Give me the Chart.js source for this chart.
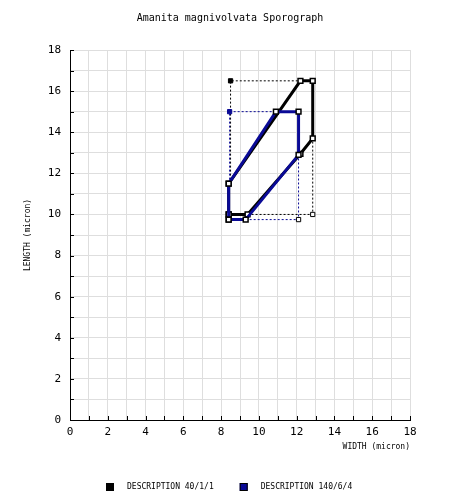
<!DOCTYPE html>
<html>
<head>
<meta charset="utf-8">
<script src="https://cdn.jsdelivr.net/npm/chart.js@4/dist/chart.umd.min.js"></script>
<style>
  html, body { margin: 0; padding: 0; background: #fff; }
  #wrap { width: 460px; height: 502px; }
</style>
</head>
<body>
<div id="wrap"><canvas id="sporeChart" width="460" height="502"></canvas></div>
<script>
// ========================
// Data read off the sporograph
const chartTitle = 'Amanita magnivolvata Sporograph';
const seriesNames = ['DESCRIPTION 40/1/1', 'DESCRIPTION 140/6/4'];

// outline of each description (width, length in micron)
const blackWidth  = [8.4, 9.4, 12.2, 12.85, 12.85, 12.2, 8.4, 8.4];
const blackLength = [10.0, 10.0, 12.95, 13.7, 16.5, 16.5, 11.5, 10.0];
const blueWidth   = [8.4, 9.3, 12.1, 12.1, 10.9, 8.4, 8.4];
const blueLength  = [9.75, 9.75, 12.9, 15.0, 15.0, 11.5, 9.75];

// dotted min / max guides (null = break in line)
const blackGuideWidth  = [8.5, 8.5, 12.2, null, 9.4, 12.85, 12.85];
const blackGuideLength = [11.5, 16.5, 16.5, null, 10.0, 10.0, 13.7];
const blueGuideWidth   = [8.45, 8.45, 10.9, null, 9.3, 12.1, 12.1];
const blueGuideLength  = [11.5, 15.0, 15.0, null, 9.75, 9.75, 12.9];

const axisMin = 0;
const axisMax = 18;

const BLACK = '#000000';
const BLUE = '#0a0a96';
const MONO = '"DejaVu Sans Mono", monospace';

function toPoints(xs, ys) {
    return xs.map((x, i) => ({ x: x, y: ys[i] }));
}

function outlineDataset(label, xs, ys, color, order) {
    return {
        label: label,
        data: toPoints(xs, ys),
        showLine: true,
        borderColor: color,
        borderWidth: 3,
        pointStyle: 'rect',
        pointRadius: 3.4,
        pointBorderColor: '#000',
        pointBorderWidth: 1.5,
        pointBackgroundColor: '#fff',
        order: order
    };
}

function guideDataset(label, xs, ys, color, order) {
    return {
        label: label,
        data: toPoints(xs, ys),
        showLine: true,
        spanGaps: false,
        borderColor: color,
        borderWidth: 1,
        borderDash: [2, 2],
        pointStyle: 'rect',
        pointRadius: [0, 3, 0, 0, 0, 3, 0],
        pointBorderColor: [color, color, color, color, color, '#000', color],
        pointBorderWidth: 1,
        pointBackgroundColor: [color, color, color, color, color, '#fff', color],
        order: order
    };
}

// ticks inside the axes + bottom legend
const extras = {
    id: 'extras',
    afterDatasetsDraw(chart) {
        const { ctx, chartArea: a, scales: { x, y } } = chart;
        ctx.save();
        ctx.strokeStyle = '#000';
        ctx.lineWidth = 1;
        for (let v = axisMin; v <= axisMax; v++) {
            const px = Math.round(x.getPixelForValue(v)) + 0.5;
            ctx.beginPath(); ctx.moveTo(px, a.bottom); ctx.lineTo(px, a.bottom - 4); ctx.stroke();
            const py = Math.round(y.getPixelForValue(v)) + 0.5;
            ctx.beginPath(); ctx.moveTo(a.left, py); ctx.lineTo(a.left + 4, py); ctx.stroke();
        }

        // legend
        ctx.font = '8px ' + MONO;
        ctx.textBaseline = 'middle';
        const colors = [BLACK, BLUE];
        const box = 8, gap = 13, itemGap = 26;
        const widths = seriesNames.map(n => ctx.measureText(n).width);
        const total = widths.reduce((s, w) => s + box + gap + w, 0) + itemGap;
        let lx = Math.round(chart.width / 2 - total / 2) - 1;
        const ly = 487;
        seriesNames.forEach((name, i) => {
            ctx.fillStyle = colors[i];
            ctx.fillRect(lx, ly - 4, box, box);
            ctx.strokeStyle = '#000';
            ctx.strokeRect(lx + 0.5, ly - 3.5, box - 1, box - 1);
            ctx.fillStyle = '#000';
            ctx.fillText(name, lx + box + gap, ly);
            lx += box + gap + widths[i] + itemGap;
        });
        ctx.restore();
    }
};

const ctx = document.getElementById('sporeChart').getContext('2d');
const sporeChart = new Chart(ctx, {
    type: 'scatter',
    data: {
        datasets: [
            outlineDataset(seriesNames[1], blueWidth, blueLength, BLUE, 1),
            guideDataset(seriesNames[1] + ' range', blueGuideWidth, blueGuideLength, BLUE, 2),
            outlineDataset(seriesNames[0], blackWidth, blackLength, BLACK, 3),
            guideDataset(seriesNames[0] + ' range', blackGuideWidth, blackGuideLength, BLACK, 4)
        ]
    },
    options: {
        responsive: false,
        animation: false,
        devicePixelRatio: 1,
        layout: { padding: 0 },
        plugins: {
            legend: { display: false },
            tooltip: { enabled: false },
            title: {
                display: true,
                text: chartTitle,
                color: '#000',
                font: { family: MONO, size: 10, weight: 'normal' },
                padding: { top: 12, bottom: 26 }
            }
        },
        scales: {
            x: {
                type: 'linear',
                min: axisMin,
                max: axisMax,
                afterFit: scale => { scale.height = 82; },
                border: { color: '#000', width: 1 },
                grid: { color: '#dedede', drawTicks: false },
                ticks: {
                    stepSize: 1,
                    padding: 6,
                    color: '#000',
                    font: { family: MONO, size: 11 },
                    maxRotation: 0,
                    autoSkip: false,
                    callback: v => (v % 2 === 0 ? String(v) : '')
                },
                title: {
                    display: true,
                    text: 'WIDTH (micron)',
                    align: 'end',
                    color: '#000',
                    font: { family: MONO, size: 8 },
                    padding: { top: 0, bottom: 50 }
                }
            },
            y: {
                type: 'linear',
                min: axisMin,
                max: axisMax,
                afterFit: scale => { scale.width = 70; },
                border: { color: '#000', width: 1 },
                grid: { color: '#dedede', drawTicks: false },
                ticks: {
                    stepSize: 1,
                    padding: 9,
                    color: '#000',
                    font: { family: MONO, size: 11 },
                    autoSkip: false,
                    callback: v => (v % 2 === 0 ? String(v) : '')
                },
                title: {
                    display: true,
                    text: 'LENGTH (micron)',
                    color: '#000',
                    font: { family: MONO, size: 8 },
                    padding: { top: 23, bottom: 0 }
                }
            },
            // empty right margin so the title centres on the full canvas
            yRight: {
                type: 'linear',
                position: 'right',
                min: axisMin,
                max: axisMax,
                afterFit: scale => { scale.width = 50; },
                grid: { display: false },
                border: { display: false },
                ticks: { display: false }
            }
        }
    },
    plugins: [extras]
});
</script>
</body>
</html>
